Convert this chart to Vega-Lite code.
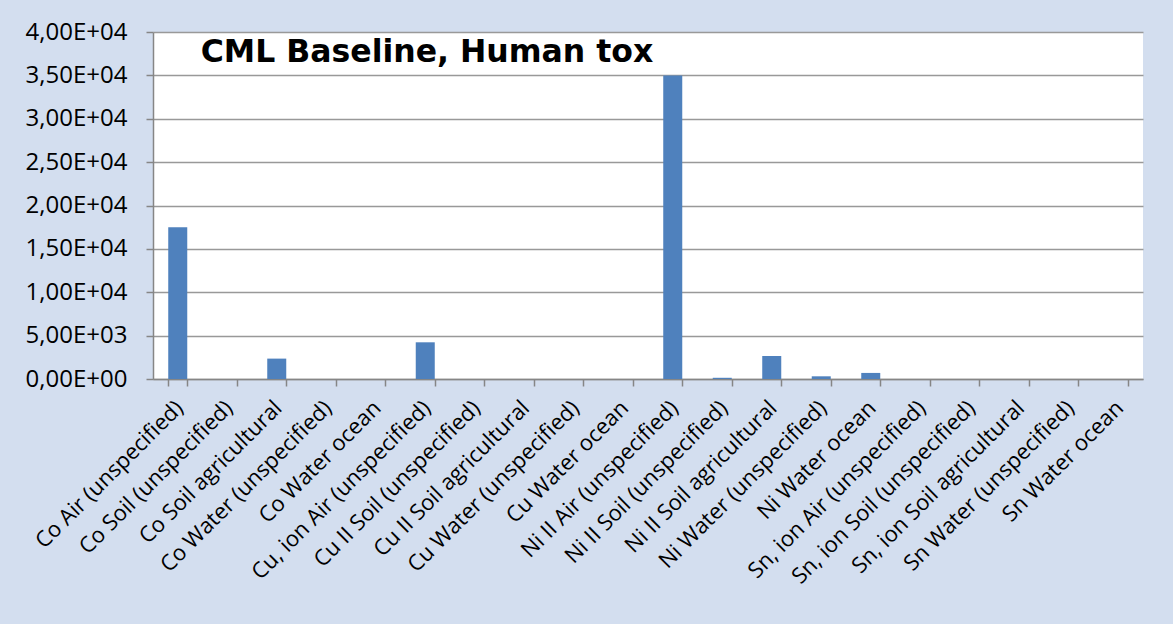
{
  "$schema": "https://vega.github.io/schema/vega-lite/v6.json",
  "width": 990,
  "height": 347,
  "autosize": {"type": "none"},
  "padding": {"left": 153, "top": 32, "right": 30, "bottom": 245},
  "background": "#d3deef",
  "encoding": {
    "x": {
      "field": "substance",
      "type": "nominal",
      "sort": null,
      "scale": {"paddingInner": 0.616, "paddingOuter": 0.308},
      "axis": {
        "title": null,
        "labelAngle": -45,
        "labelAlign": "right",
        "labelBaseline": "top",
        "labelFont": "Open Sans",
        "labelFontSize": 22,
        "labelColor": "#000000",
        "labelLimit": 0,
        "labelPadding": 11,
        "labelOffset": -6,
        "tickBand": "extent",
        "ticks": true,
        "tickSize": 7,
        "tickColor": "#868686",
        "tickWidth": 1.5,
        "domainColor": "#868686",
        "domainWidth": 1.5,
        "grid": false
      }
    },
    "y": {
      "field": "value",
      "type": "quantitative",
      "scale": {"domain": [0, 40000], "nice": false},
      "axis": {
        "title": null,
        "values": [0, 5000, 10000, 15000, 20000, 25000, 30000, 35000, 40000],
        "labelExpr": "replace(replace(format(datum.value, '.2e'), '.', ','), 'e+', 'E+0')",
        "labelFont": "Open Sans",
        "labelFontSize": 24,
        "labelColor": "#000000",
        "labelPadding": 19,
        "tickSize": 7,
        "tickColor": "#868686",
        "tickWidth": 1.5,
        "domainColor": "#868686",
        "domainWidth": 1.5,
        "grid": true,
        "gridColor": "#999999",
        "gridWidth": 1.4
      }
    }
  },
  "layer": [
    {
      "data": {
        "values": [
          {"substance": "Co Air (unspecified)", "value": 17500},
          {"substance": "Co Soil (unspecified)", "value": 0},
          {"substance": "Co Soil agricultural", "value": 2350},
          {"substance": "Co Water (unspecified)", "value": 0},
          {"substance": "Co Water ocean", "value": 0},
          {"substance": "Cu, ion Air (unspecified)", "value": 4230},
          {"substance": "Cu II Soil (unspecified)", "value": 0},
          {"substance": "Cu II Soil agricultural", "value": 0},
          {"substance": "Cu Water (unspecified)", "value": 0},
          {"substance": "Cu Water ocean", "value": 0},
          {"substance": "Ni II Air (unspecified)", "value": 35000},
          {"substance": "Ni II Soil (unspecified)", "value": 140},
          {"substance": "Ni II Soil agricultural", "value": 2650},
          {"substance": "Ni Water (unspecified)", "value": 310},
          {"substance": "Ni Water ocean", "value": 700},
          {"substance": "Sn, ion Air (unspecified)", "value": 0},
          {"substance": "Sn, ion Soil (unspecified)", "value": 0},
          {"substance": "Sn, ion Soil agricultural", "value": 0},
          {"substance": "Sn Water (unspecified)", "value": 0},
          {"substance": "Sn Water ocean", "value": 0}
        ]
      },
      "mark": {"type": "bar", "color": "#4f81bd"}
    },
    {
      "data": {
        "values": [
          {"substance": "Co Air (unspecified)", "value": 36570, "title": "CML Baseline, Human tox"}
        ]
      },
      "mark": {
        "type": "text",
        "align": "left",
        "baseline": "alphabetic",
        "dx": 23,
        "font": "DejaVu Sans",
        "fontSize": 31.5,
        "fontWeight": "bold",
        "color": "#000000"
      },
      "encoding": {
        "text": {"field": "title", "type": "nominal"}
      }
    }
  ],
  "config": {
    "view": {"fill": "#ffffff", "stroke": null}
  }
}
